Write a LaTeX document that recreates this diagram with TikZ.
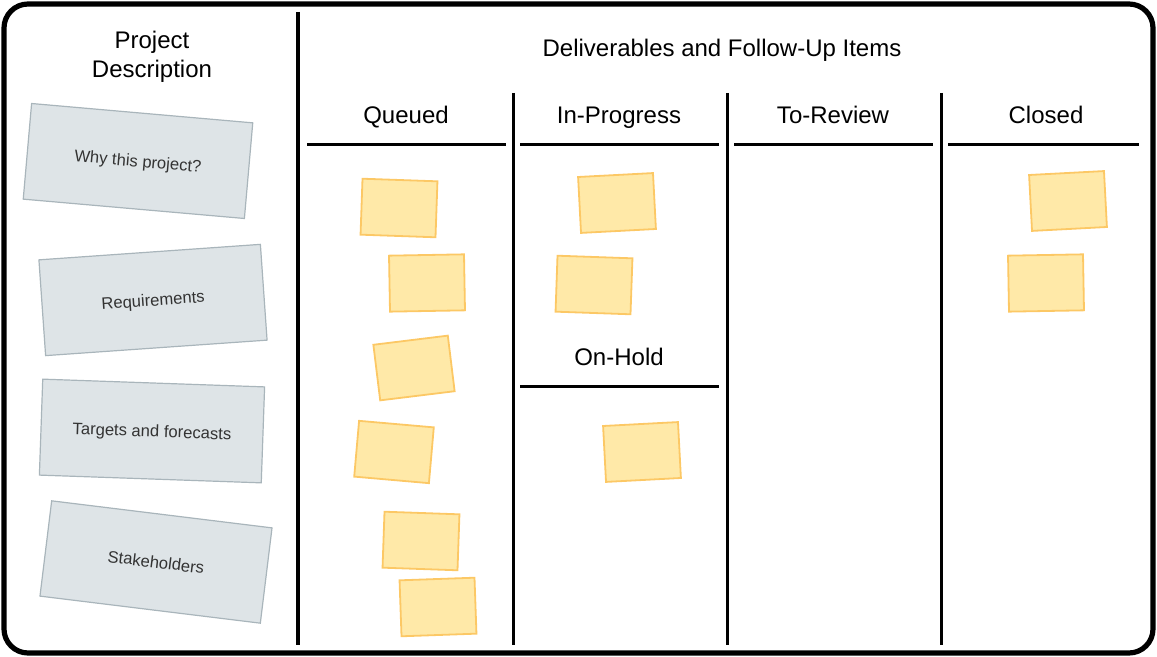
\documentclass[tikz,border=0pt]{standalone}
\usepackage{fontspec}
\setmainfont{Liberation Sans}
\usepackage{tikz}
\usetikzlibrary{positioning}

\definecolor{notegray}{HTML}{DEE4E7}
\definecolor{notegrayline}{HTML}{A9B5BB}
\definecolor{noteyellow}{HTML}{FFE9A8}
\definecolor{noteyellowline}{HTML}{FCC865}
\definecolor{notetext}{HTML}{333333}

\begin{document}
\begin{tikzpicture}
    [x=0.5pt, y=-0.5pt,
    headnode/.style={font=\fontsize{12}{14}\selectfont, align=center,
        text height=9pt, text depth=2.5pt},
    graynote/.style={rectangle, fill=notegray, draw=notegrayline, line width=0.6pt,
        minimum width=111pt, minimum height=48pt, text=notetext,
        text height=6pt, text depth=0pt,
        font=\fontsize{8.3}{10}\selectfont},
    yellownote/.style={rectangle, fill=noteyellow, draw=noteyellowline, line width=0.9pt,
        minimum width=37.5pt, minimum height=28pt},
    boardline/.style={line width=1.5pt},]

    \useasboundingbox (0,0) rectangle (1157,657);

    %Frame
    \draw[line width=2.6pt, rounded corners=12pt] (4,4) rectangle (1153,653);

    %Lines
    \draw[line width=2pt] (298,12) -- (298,645);
    \draw[boardline] (513,93) -- (513,645);
    \draw[boardline] (727,93) -- (727,645);
    \draw[boardline] (941,93) -- (941,645);
    \draw[boardline] (307,145) -- (506,145);
    \draw[boardline] (520,145) -- (719,145);
    \draw[boardline] (734,145) -- (933,145);
    \draw[boardline] (948,145) -- (1139,145);
    \draw[boardline] (520,387) -- (719,387);

    %Labels
    \node[font=\fontsize{12}{14.5}\selectfont, align=center](projdesc) at (152,57) {Project\\Description};
    \node[headnode](deliverables) at (722,50) {Deliverables and Follow-Up Items};
    \node[headnode](queued) at (406,117) {Queued};
    \node[headnode](inprogress) at (619,117) {In-Progress};
    \node[headnode](toreview) at (833,117) {To-Review};
    \node[headnode](closed) at (1046,117) {Closed};
    \node[headnode](onhold) at (619,359) {On-Hold};

    %Description notes
    \node[graynote, rotate=-5](whynote) at (138,161) {Why this project?};
    \node[graynote, rotate=4](reqnote) at (153,300) {Requirements};
    \node[graynote, rotate=-2](targetnote) at (152,431) {Targets and forecasts};
    \node[graynote, rotate=-7](stakenote) at (156,562) {Stakeholders};

    %Queued notes
    \node[yellownote, rotate=-2](queuedA) at (399,208) {};
    \node[yellownote, rotate=1](queuedB) at (427,283) {};
    \node[yellownote, rotate=7](queuedC) at (414,368) {};
    \node[yellownote, rotate=-5](queuedD) at (394,452) {};
    \node[yellownote, rotate=-2](queuedE) at (421,541) {};
    \node[yellownote, rotate=2](queuedF) at (438,607) {};

    %In-Progress and On-Hold notes
    \node[yellownote, rotate=3](progressA) at (617,203) {};
    \node[yellownote, rotate=-2](progressB) at (594,285) {};
    \node[yellownote, rotate=3](holdA) at (642,452) {};

    %Closed notes
    \node[yellownote, rotate=3](closedA) at (1068,201) {};
    \node[yellownote, rotate=1](closedB) at (1046,283) {};

\end{tikzpicture}
\end{document}
